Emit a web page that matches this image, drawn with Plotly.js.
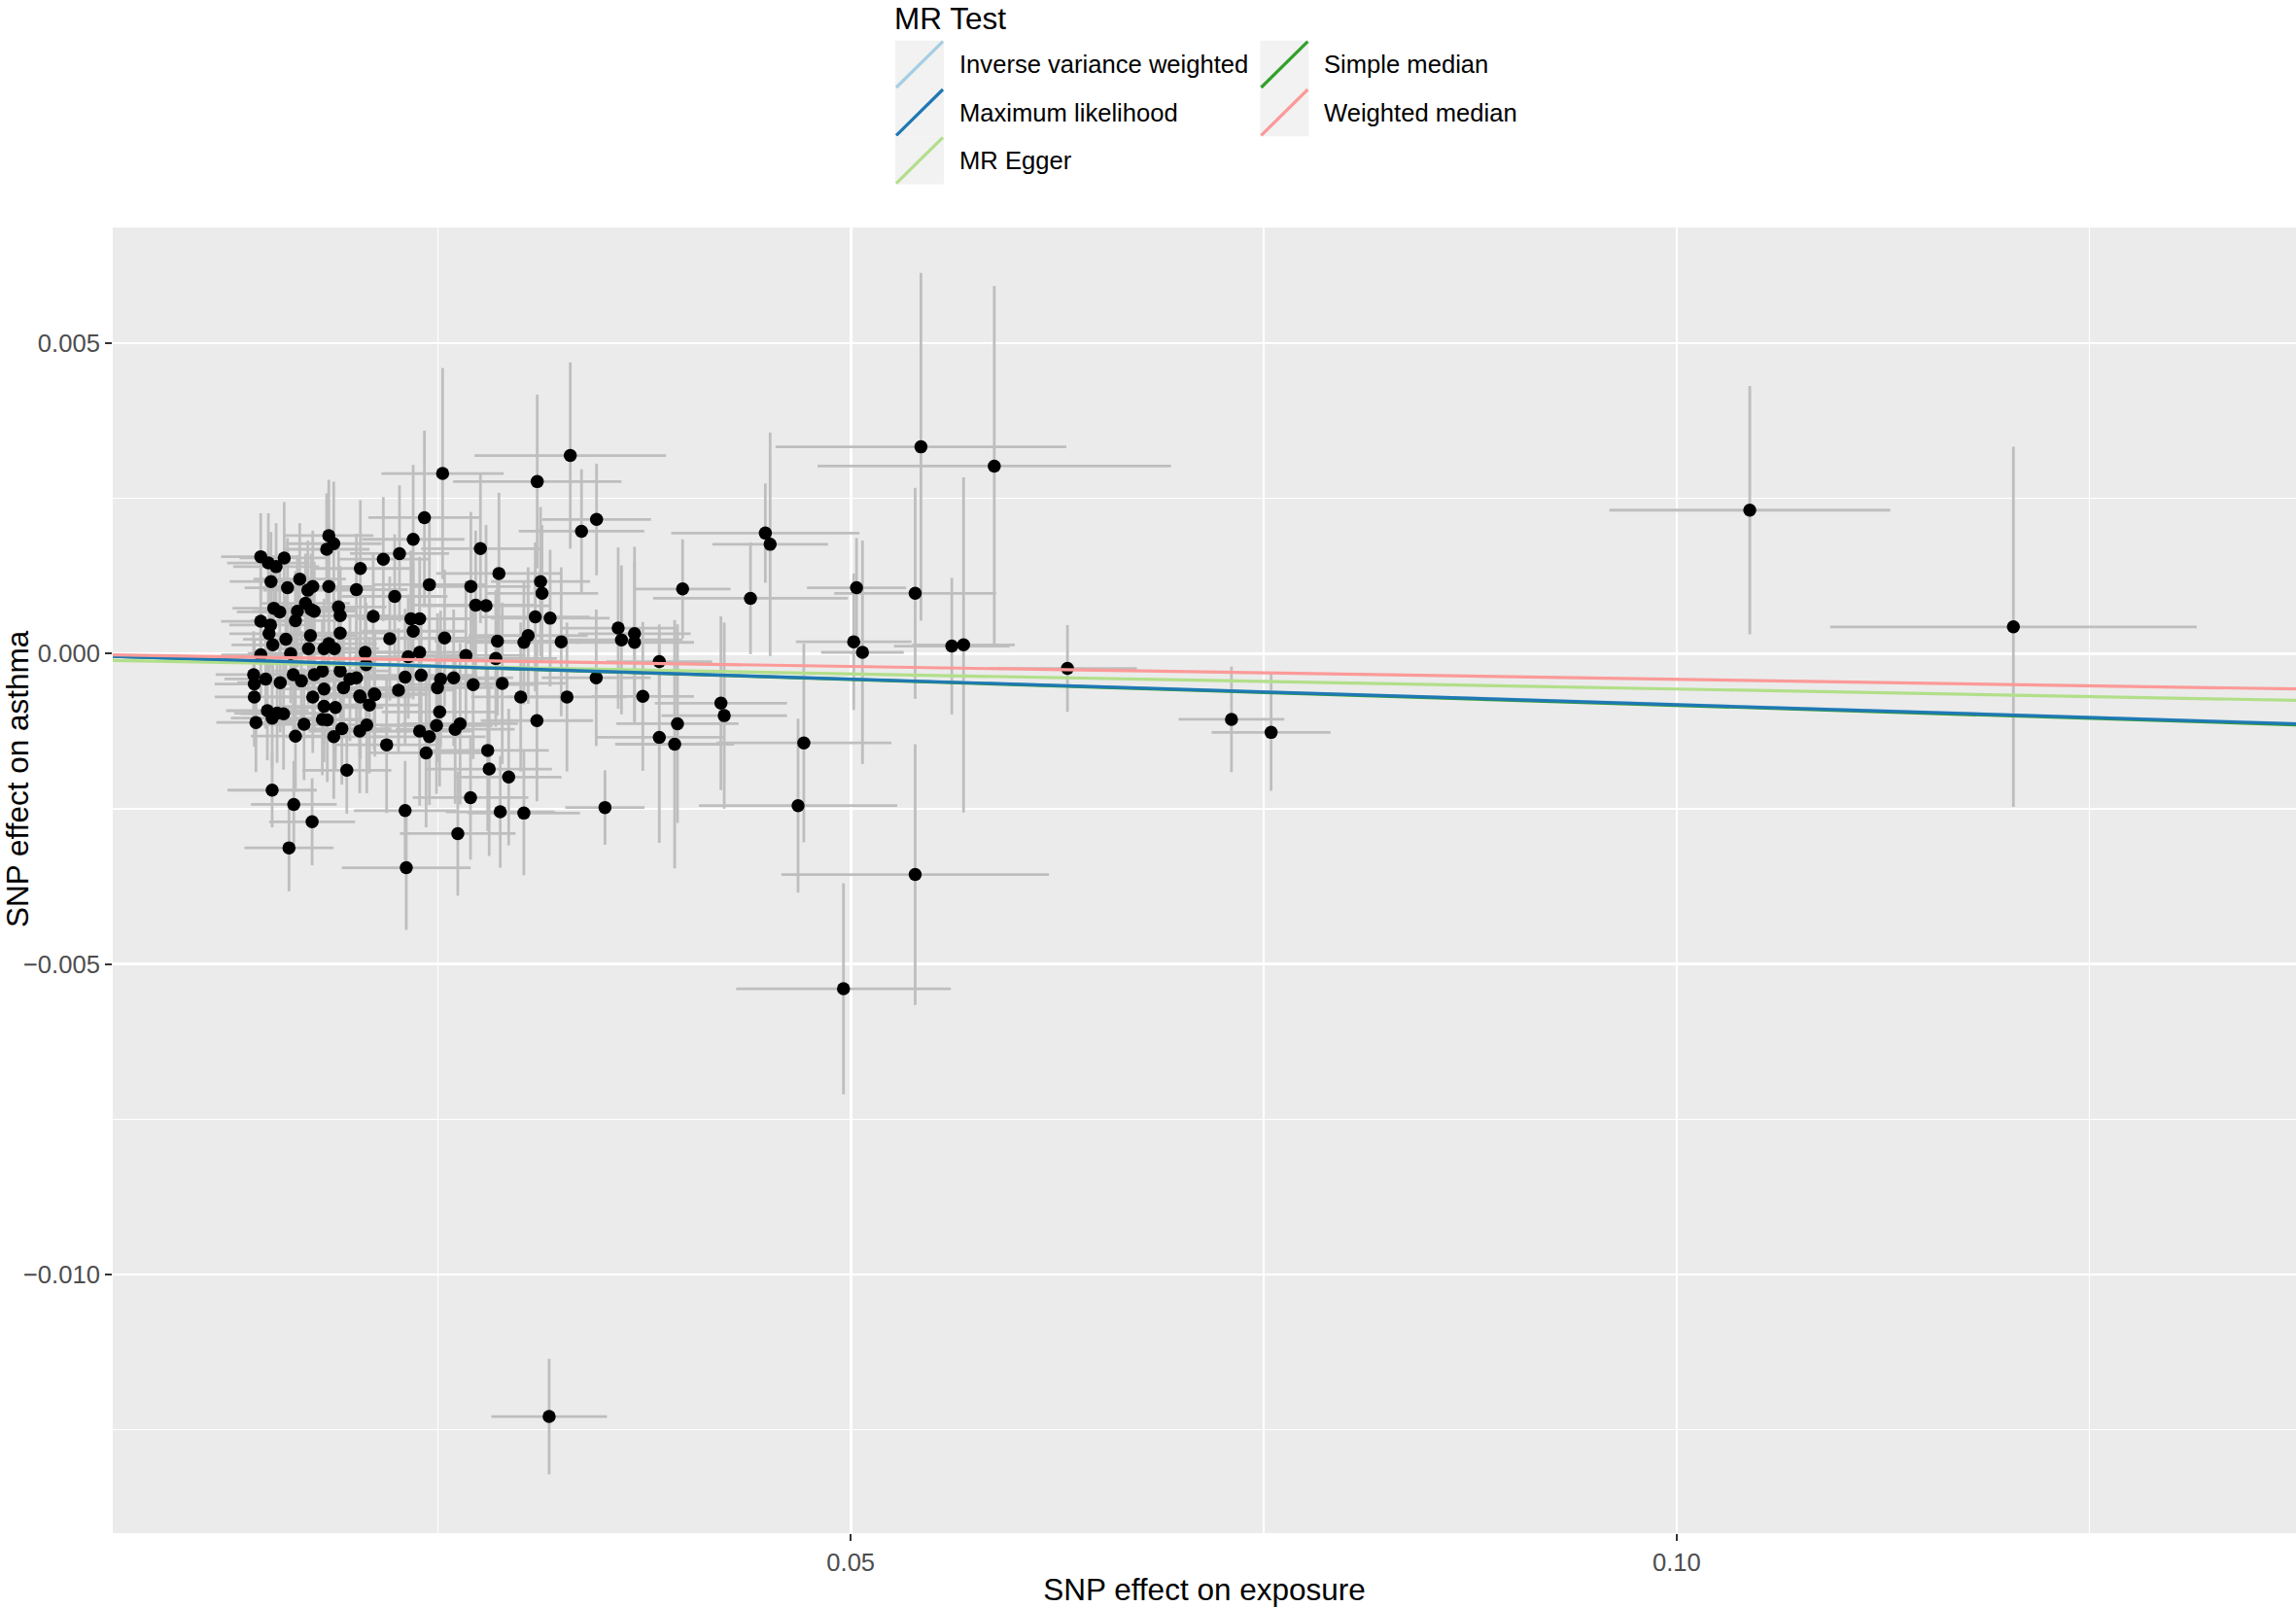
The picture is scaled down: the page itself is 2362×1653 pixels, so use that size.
<!DOCTYPE html>
<html>
<head>
<meta charset="utf-8">
<script src="https://cdn.plot.ly/plotly-3.0.1.min.js"></script>
<style>html,body{margin:0;padding:0;background:#fff;}#chart{width:2362px;height:1653px;}</style>
</head>
<body>
<div id="chart"></div>
<script>
// ---- Data: SNP effects (exposure beta, outcome beta and their standard errors) ----
const snpExposure = [
 0.02529,0.02419,0.02351,0.02268,0.02170,0.02758,0.02870,0.01840,0.01870,0.01827,
 0.01428,0.01474,0.01521,0.01570,0.02031,0.01490,0.01590,0.01664,0.01713,0.01743,
 0.01840,0.02007,0.02449,0.02239,0.02700,0.02729,0.02792,0.01507,0.01543,0.01699,
 0.01733,0.01752,0.01650,0.01899,0.01909,0.02109,0.01428,0.01487,0.01478,0.01501,
 0.01638,0.01729,0.01717,0.01580,0.01909,0.01811,0.01840,0.01874,0.02209,0.02337,
 0.02390,0.02351,0.02541,0.02861,0.01609,0.02060,0.02321,0.02390,0.02670,0.02851,
 0.01428,
 0.01385,0.01458,0.01389,0.01546,0.01625,0.01674,0.01752,0.01801,0.01909,0.01968,
 0.02007,0.02066,0.02302,0.02399,0.02517,0.02498,0.02596,0.02714,0.02890,0.01811,
 0.01929,0.02027,0.02115,0.02262,0.01743,0.01389,
 0.01811,0.01880,0.01468,0.01527,0.01566,0.01497,0.01399,0.01690,0.01801,0.01831,
 0.01919,0.01870,0.02027,0.02070,0.01638,0.02031,0.02086,0.02119,0.02190,0.01949,
 0.02511,0.02492,0.02390,0.02449,0.02429,0.02605,0.02635,0.02802,0.02811,0.02698,
 0.02878,0.01497,0.01628,0.01739,0.01599,0.02302,0.02621,0.02309,
 0.03302,0.03102,0.03461,0.03370,0.04483,0.04512,0.03122,0.03131,0.03090,0.03180,
 0.03982,0.04393,0.03592,0.03691,0.03612,0.03691,0.03047,0.03247,0.03021,
 0.03841,0.03459,0.03002,0.03282,0.03741,0.03100,0.04214,0.04234,0.03951,0.03841,
 0.03934,0.02929,0.03021,0.03512,
 0.05425,0.05869,0.05035,0.05390,0.05018,0.05071,0.05612,0.05683,0.06312,0.04716,
 0.04681,0.05390,0.04956,0.07305,0.07545,0.10443,0.12039,0.03174
];
const snpOutcome = [
 0.00290,0.00219,0.00184,0.00161,0.00152,0.00169,0.00129,0.00190,0.00177,0.00168,
 0.00156,0.00146,0.00140,0.00154,0.00137,0.00116,0.00106,0.00120,0.00102,0.00108,
 0.00108,0.00103,0.00111,0.00092,0.00108,0.00078,0.00077,0.00073,0.00067,0.00081,
 0.00071,0.00068,0.00068,0.00075,0.00061,0.00060,0.00052,0.00046,0.00032,0.00014,
 0.00053,0.00029,0.00008,0.00023,0.00033,0.00008,0.00016,0.00008,0.00024,0.00056,
 0.00056,0.00036,0.00025,0.00020,0.00000,0.00002,-0.00005,0.00002,-0.00003,-0.00008,
 -0.00002,
 -0.00034,-0.00041,-0.00049,-0.00047,-0.00034,-0.00044,-0.00034,-0.00028,-0.00028,-0.00041,
 -0.00039,-0.00018,-0.00038,-0.00035,-0.00041,-0.00055,-0.00039,-0.00050,-0.00048,-0.00057,
 -0.00055,-0.00068,-0.00065,-0.00059,-0.00070,-0.00070,
 -0.00085,-0.00087,-0.00092,-0.00096,-0.00097,-0.00104,-0.00111,-0.00114,-0.00106,-0.00107,
 -0.00121,-0.00134,-0.00125,-0.00115,-0.00133,-0.00070,-0.00083,-0.00066,-0.00147,-0.00188,
 -0.00094,-0.00116,-0.00125,-0.00134,-0.00160,-0.00122,-0.00113,-0.00156,-0.00186,-0.00232,
 -0.00255,-0.00220,-0.00243,-0.00271,-0.00313,-0.00253,-0.00290,-0.00345,
 0.00319,0.00277,0.00216,0.00197,0.00194,0.00176,0.00116,0.00097,0.00059,0.00057,
 0.00104,0.00089,0.00041,0.00032,0.00022,0.00018,0.00029,0.00019,0.00018,
 -0.00013,-0.00039,-0.00070,-0.00070,-0.00069,-0.00108,-0.00080,-0.00100,-0.00113,-0.00135,
 -0.00146,-0.00199,-0.00257,-0.00248,
 0.00333,0.00302,0.00106,0.00097,0.00019,0.00002,0.00012,0.00014,-0.00024,-0.00144,
 -0.00245,-0.00356,-0.00540,-0.00106,-0.00127,0.00231,0.00043,-0.01229
];
const seExposure = [
 0.0037,0.0034,0.0031,0.0030,0.0028,0.0036,0.0038,0.0027,0.0029,0.0026,
 0.0024,0.0025,0.0026,0.0027,0.0030,0.0025,0.0026,0.0028,0.0027,0.0029,
 0.0028,0.0031,0.0034,0.0032,0.0036,0.0037,0.0039,0.0025,0.0026,0.0027,
 0.0028,0.0026,0.0027,0.0029,0.0030,0.0032,0.0024,0.0025,0.0024,0.0025,
 0.0027,0.0028,0.0026,0.0026,0.0030,0.0028,0.0029,0.0027,0.0033,0.0032,
 0.0034,0.0031,0.0035,0.0038,0.0026,0.0031,0.0033,0.0032,0.0036,0.0037,
 0.0024,
 0.0023,0.0025,0.0024,0.0026,0.0027,0.0026,0.0028,0.0029,0.0030,0.0031,
 0.0030,0.0032,0.0033,0.0034,0.0035,0.0034,0.0036,0.0037,0.0039,0.0028,
 0.0029,0.0031,0.0032,0.0033,0.0027,0.0024,
 0.0028,0.0029,0.0025,0.0026,0.0026,0.0025,0.0024,0.0027,0.0028,0.0029,
 0.0030,0.0029,0.0031,0.0031,0.0027,0.0031,0.0032,0.0032,0.0033,0.0027,
 0.0035,0.0034,0.0033,0.0034,0.0034,0.0036,0.0035,0.0037,0.0038,0.0035,
 0.0033,0.0027,0.0026,0.0026,0.0027,0.0031,0.0035,0.0039,
 0.0058,0.0051,0.0033,0.0038,0.0057,0.0035,0.0030,0.0034,0.0033,0.0036,
 0.0029,0.0059,0.0035,0.0034,0.0037,0.0036,0.0036,0.0034,0.0035,
 0.0032,0.0033,0.0030,0.0036,0.0031,0.0034,0.0040,0.0038,0.0037,0.0039,
 0.0036,0.0032,0.0034,0.0024,
 0.0088,0.0107,0.0030,0.0049,0.0035,0.0025,0.0035,0.0031,0.0042,0.0053,
 0.0060,0.0081,0.0065,0.0032,0.0036,0.0085,0.0111,0.0035
];
const seOutcome = [
 0.0017,0.0014,0.0012,0.0011,0.0010,0.0012,0.0013,0.0009,0.0010,0.0009,
 0.0007,0.0008,0.0007,0.0009,0.0011,0.0008,0.0008,0.0009,0.0008,0.0009,
 0.0010,0.0009,0.0011,0.0010,0.0012,0.0012,0.0013,0.0007,0.0008,0.0008,
 0.0009,0.0008,0.0009,0.0009,0.0008,0.0010,0.0007,0.0007,0.0008,0.0007,
 0.0008,0.0008,0.0009,0.0007,0.0009,0.0008,0.0009,0.0008,0.0010,0.0011,
 0.0010,0.0011,0.0011,0.0012,0.0008,0.0009,0.0010,0.0011,0.0012,0.0011,
 0.0007,
 0.0007,0.0008,0.0007,0.0008,0.0009,0.0008,0.0009,0.0008,0.0009,0.0010,
 0.0009,0.0010,0.0011,0.0010,0.0011,0.0012,0.0011,0.0012,0.0013,0.0009,
 0.0008,0.0010,0.0009,0.0010,0.0009,0.0008,
 0.0009,0.0010,0.0008,0.0008,0.0009,0.0008,0.0008,0.0009,0.0009,0.0010,
 0.0009,0.0010,0.0010,0.0011,0.0009,0.0010,0.0011,0.0010,0.0011,0.0007,
 0.0012,0.0011,0.0012,0.0011,0.0012,0.0012,0.0013,0.0013,0.0014,0.0010,
 0.0009,0.0006,0.0007,0.0007,0.0007,0.0008,0.0010,0.0010,
 0.0015,0.0014,0.0009,0.0010,0.0008,0.0018,0.0012,0.0011,0.0012,0.0011,
 0.0008,0.0009,0.0013,0.0014,0.0012,0.0013,0.0011,0.0012,0.0010,
 0.0006,0.0011,0.0012,0.0012,0.0012,0.0013,0.0014,0.0015,0.0016,0.0017,
 0.0020,0.0011,0.0010,0.0006,
 0.0028,0.0029,0.0008,0.0017,0.0011,0.0018,0.0011,0.0027,0.0007,0.0016,
 0.0014,0.0021,0.0017,0.00085,0.00094,0.0020,0.0029,0.00093
];

// ---- MR method fits ----
const methodNames = ["Inverse variance weighted","Maximum likelihood","MR Egger","Simple median","Weighted median"];
const methodSlopes = [-0.00820,-0.00824,-0.00487,-0.00835,-0.00415];
const methodIntercepts = [0,0,-0.000084,0,0];
const methodColors = ["#A6CEE3","#1F78B4","#B2DF8A","#33A02C","#FB9A99"];
const drawOrder = [0,3,2,1,4];

// ---- Axis ticks ----
const xTickVals = [0.05,0.10];
const xTickText = ["0.05","0.10"];
const xMinorVals = [0.025,0.075,0.125];
const yTickVals = [0.005,0.000,-0.005,-0.010];
const yTickText = ["0.005","0.000","\u22120.005","\u22120.010"];
const yMinorVals = [0.0025,-0.0025,-0.0075,-0.0125];
const xRange = [0.00532,0.1375];
const yRange = [-0.014168,0.006863];

// ---- Layout geometry ----
const W=2362,H=1653,ML=116,MR=0,MT=234,MB=76;
const PW=W-ML-MR, PH=H-MT-MB;
const px=x=>(x-ML)/PW, py=y=>(H-MB-y)/PH;
const FONT="Liberation Sans, Arial, Helvetica, sans-serif";
const SMALL=25.6, BIG=31.5;

const traces=[];
traces.push({
  type:"scatter", mode:"markers", x:snpExposure, y:snpOutcome,
  marker:{color:"#000000", size:13.5},
  error_x:{type:"data", array:seExposure, visible:true, color:"#BEBEBE", thickness:2.8, width:0},
  error_y:{type:"data", array:seOutcome, visible:true, color:"#BEBEBE", thickness:2.8, width:0},
  showlegend:false, hoverinfo:"x+y"
});
drawOrder.forEach(i=>{
  traces.push({
    type:"scatter", mode:"lines", name:methodNames[i],
    x:[xRange[0],xRange[1]],
    y:[methodIntercepts[i]+methodSlopes[i]*xRange[0], methodIntercepts[i]+methodSlopes[i]*xRange[1]],
    line:{color:methodColors[i], width:3.2}, showlegend:false
  });
});

// custom ggplot-style legend
const shapes=[], annotations=[];
annotations.push({xref:"paper",yref:"paper",x:px(919),y:py(0),xanchor:"left",yanchor:"top",borderpad:0,
  text:"MR Test",showarrow:false,font:{family:FONT,size:BIG,color:"#000"}});
methodNames.forEach((nm,i)=>{
  const col=Math.floor(i/3), row=i%3;
  const x0=921+col*375.4, x1=x0+50, y0=41.7+row*49.3, y1=y0+49.3;
  shapes.push({type:"rect",xref:"paper",yref:"paper",x0:px(x0),x1:px(x1),y0:py(y1),y1:py(y0),
    fillcolor:"#F2F2F2",line:{width:0},layer:"above"});
  shapes.push({type:"line",xref:"paper",yref:"paper",x0:px(x0+1),y0:py(y1-1),x1:px(x1-1),y1:py(y0+1),
    line:{color:methodColors[i],width:3.2}});
  annotations.push({xref:"paper",yref:"paper",x:px(985+col*375),y:py((y0+y1)/2),xanchor:"left",yanchor:"middle",
    text:nm,showarrow:false,font:{family:FONT,size:SMALL,color:"#000"}});
});
annotations.push({xref:"paper",yref:"paper",x:px(18),y:py(801),xanchor:"center",yanchor:"middle",
  text:"SNP effect on asthma",textangle:-90,showarrow:false,font:{family:FONT,size:BIG,color:"#000"}});

const axisCommon={showline:false,zeroline:false,ticks:"outside",ticklen:7,tickwidth:2,tickcolor:"#333333",
  tickfont:{family:FONT,size:SMALL,color:"#4D4D4D"},showgrid:true,gridcolor:"#FFFFFF",gridwidth:2.6,
  tickmode:"array",automargin:false};
const layout={
  width:W,height:H,margin:{l:ML,r:MR,t:MT,b:MB,pad:0},
  paper_bgcolor:"#FFFFFF",plot_bgcolor:"#EBEBEB",
  font:{family:FONT,color:"#000"},
  showlegend:false,
  xaxis:Object.assign({},axisCommon,{range:xRange,tickvals:xTickVals,ticktext:xTickText,
    minor:{tickmode:"array",tickvals:xMinorVals,showgrid:true,gridcolor:"#FFFFFF",gridwidth:1.3,ticks:""},
    title:{text:"SNP effect on exposure",font:{family:FONT,size:BIG,color:"#000"},standoff:5}}),
  yaxis:Object.assign({},axisCommon,{range:yRange,tickvals:yTickVals,ticktext:yTickText,
    minor:{tickmode:"array",tickvals:yMinorVals,showgrid:true,gridcolor:"#FFFFFF",gridwidth:1.3,ticks:""},
    title:{text:""}}),
  shapes:shapes, annotations:annotations
};
Plotly.newPlot("chart",traces,layout,{displayModeBar:false,staticPlot:true});
</script>
</body>
</html>
